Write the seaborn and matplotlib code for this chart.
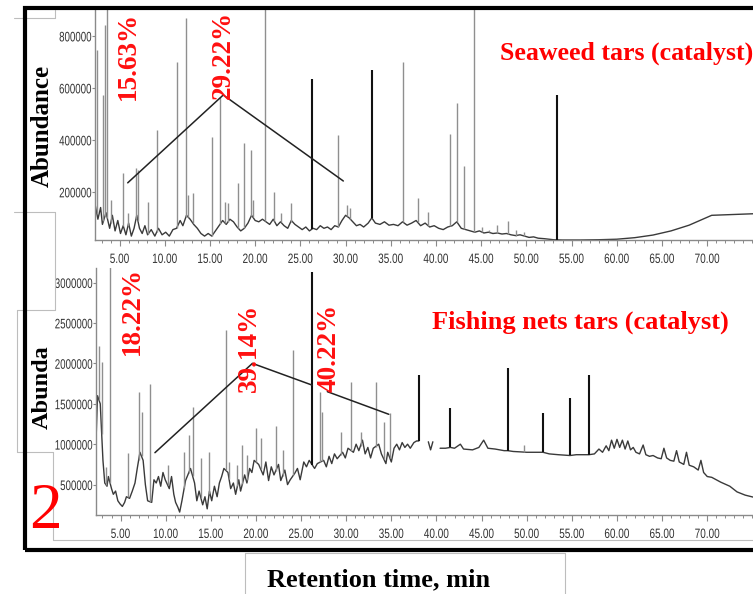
import numpy as np
import pandas as pd
import matplotlib
matplotlib.use("Agg")
import matplotlib.pyplot as plt
import seaborn as sns
from matplotlib.patches import Rectangle
from matplotlib.lines import Line2D
from matplotlib.ticker import MultipleLocator, FuncFormatter
from matplotlib.patheffects import AbstractPathEffect
from matplotlib.transforms import Affine2D

# ---------------- data ----------------
# Seaweed tars (catalyst): baseline trace
sw_base_t = [2.3, 2.6, 2.9, 3.1, 3.5, 3.9, 4.2, 4.5, 4.8, 5.1, 5.4, 5.7, 6.0, 6.3, 6.6, 6.9, 7.2, 7.5, 7.8, 8.1,
             8.5, 8.9, 9.3, 9.7, 10.1, 10.5, 10.9, 11.3, 11.7, 12.0, 12.4, 12.8, 13.2, 13.6, 14.0, 14.4, 14.8,
             15.2, 15.6, 16.0, 16.4, 16.8, 17.2, 17.6, 18.0, 18.4, 18.8, 19.2, 19.6, 20.0, 20.4, 20.8, 21.2,
             21.6, 22.0, 22.4, 22.8, 23.2, 23.6, 24.0, 24.4, 24.8, 25.2, 25.6, 26.0, 26.4, 26.8, 27.2, 27.6,
             28.0, 28.4, 28.8, 29.2, 29.6, 30.0, 30.4, 30.8, 31.2, 31.6, 32.0, 32.5, 32.9, 33.3, 33.8, 34.3,
             34.8, 35.3, 35.8, 36.3, 36.8, 37.3, 37.8, 38.3, 38.8, 39.3, 39.8, 40.3, 40.8, 41.3, 41.8, 42.3,
             42.8, 43.3, 43.8, 44.3, 44.8, 45.3, 45.8, 46.3, 46.8, 47.3, 47.8, 48.3, 48.8, 49.3, 49.8, 50.3,
             50.8, 51.3, 52.0, 53.0, 54.0, 56.0, 58.0, 60.0, 62.0, 64.0, 66.0, 68.0, 69.5, 70.5, 72.0, 75.1]
sw_base_v = [150e3, 95e3, 140e3, 75e3, 120e3, 60e3, 110e3, 50e3, 90e3, 40e3, 70e3, 35e3, 80e3, 30e3, 60e3, 110e3,
             60e3, 40e3, 70e3, 35e3, 55e3, 30e3, 60e3, 35e3, 45e3, 30e3, 55e3, 60e3, 90e3, 70e3, 110e3, 95e3,
             75e3, 60e3, 40e3, 30e3, 40e3, 30e3, 50e3, 70e3, 90e3, 75e3, 95e3, 85e3, 65e3, 50e3, 60e3, 80e3,
             110e3, 90e3, 85e3, 95e3, 85e3, 75e3, 95e3, 70e3, 85e3, 70e3, 60e3, 90e3, 75e3, 65e3, 55e3, 65e3,
             50e3, 60e3, 55e3, 70e3, 60e3, 65e3, 55e3, 70e3, 65e3, 90e3, 110e3, 100e3, 85e3, 70e3, 75e3, 65e3,
             80e3, 100e3, 80e3, 75e3, 85e3, 72e3, 75e3, 70e3, 85e3, 72e3, 80e3, 90e3, 70e3, 80e3, 65e3, 70e3,
             60e3, 55e3, 65e3, 70e3, 85e3, 60e3, 55e3, 50e3, 45e3, 50e3, 42e3, 45e3, 40e3, 42e3, 38e3, 40e3,
             35e3, 32e3, 35e3, 30e3, 25e3, 27e3, 22e3, 20e3, 16e3, 15e3, 15e3, 16e3, 18e3, 24e3, 34e3, 50e3,
             72e3, 95e3, 110e3, 112e3, 116e3]
# Seaweed tars: peaks (thin grey) and strong black spikes
sw_peak_t = [2.47, 3.20, 3.38, 3.64, 4.02, 5.41, 5.93, 6.81, 7.04, 8.14, 9.10, 11.32, 12.35, 12.57, 13.12,
             15.19, 16.11, 16.66, 16.99, 18.10, 18.79, 19.54, 19.76, 21.08, 22.08, 22.82, 23.93, 29.16, 30.12,
             30.49, 36.38, 37.98, 39.15, 41.55, 42.29, 43.10, 44.24, 45.05, 45.86, 46.71, 47.96, 48.82, 49.73]
sw_peak_v = [746e3, 573e3, 842e3, 1.3e6, 170e3, 273e3, 119e3, 292e3, 285e3, 162e3, 438e3, 700e3, 869e3,
             188e3, 196e3, 412e3, 565e3, 162e3, 158e3, 234e3, 388e3, 361e3, 169e3, 1.5e6, 200e3, 119e3,
             158e3, 419e3, 150e3, 138e3, 700e3, 177e3, 123e3, 423e3, 542e3, 300e3, 1.5e6, 65e3, 54e3, 73e3,
             88e3, 54e3, 46e3]
sw_spike_t = [26.25, 32.89, 53.42]
sw_spike_v = [635e3, 669e3, 573e3]

# Fishing nets tars (catalyst): baseline trace (it has gaps after 38 min)
fn_base_t = [2.3, 2.45, 2.75, 3.05, 3.25, 3.5, 3.65, 4.0, 4.2, 4.45, 4.7, 4.95, 5.2, 5.45, 5.65, 6.0, 6.3, 6.6,
             6.85, 7.15, 7.5, 7.75, 8.0, 8.45, 8.7, 8.95, 9.2, 9.45, 9.7, 9.95, 10.4, 10.65, 10.9, 11.1, 11.35,
             11.55, 11.8, 12.2, 12.75, 13.2, 13.45, 13.7, 14.1, 14.35, 14.6, 14.85, 15.1, 15.4, 15.7, 15.95,
             16.2, 16.45, 16.9, 17.2, 17.5, 17.75, 18.1, 18.3, 18.75, 19.0, 19.3, 19.55, 19.8, 20.3, 20.8,
             21.1, 21.4, 21.7, 22.0, 22.5, 22.75, 23.2, 23.5, 23.8, 24.3, 24.6, 24.9, 25.3, 25.6, 25.9, 26.5,
             26.8, 27.5, 27.8, 28.1, 28.4, 28.7, 29.0, 29.6, 29.9, 30.2, 30.8, 31.1, 31.4, 31.8, 32.1, 32.4,
             32.7, 33.0, 33.6, 33.9, 34.4, 34.6, 35.0, 35.3, 35.6, 35.9, 36.2, 36.5, 36.8, 37.1, 37.5, 37.8,
             38.05,
             39.1, 39.35, 39.6,
             40.4, 41.0, 41.55, 42.0, 42.65, 43.0, 44.0, 44.7, 45.23, 45.7, 46.5, 47.5, 47.9, 48.5, 49.3,
             50.0, 51.0, 51.8, 52.5, 53.5, 54.8, 55.5, 56.9, 57.5, 58.0, 58.4, 58.8, 59.1, 59.4, 59.7, 60.0,
             60.3, 60.6, 60.9, 61.2, 61.5, 61.8, 62.1, 62.5, 62.9, 63.2, 63.6, 64.0, 64.5, 64.9, 65.2, 65.5,
             65.9, 66.3, 66.6, 66.9, 67.4, 67.7, 68.0, 68.5, 69.0, 69.3, 69.6, 70.0, 70.5, 71.5, 72.5, 73.3,
             74.2, 75.1]
fn_base_v = [1.1e6, 1.6e6, 1.5e6, 800e3, 520e3, 480e3, 600e3, 450e3, 380e3, 420e3, 300e3, 260e3, 230e3,
             280e3, 350e3, 330e3, 420e3, 520e3, 700e3, 900e3, 800e3, 500e3, 300e3, 280e3, 560e3, 520e3,
             600e3, 480e3, 650e3, 560e3, 450e3, 600e3, 380e3, 280e3, 220e3, 160e3, 300e3, 550e3, 700e3,
             520e3, 300e3, 420e3, 250e3, 350e3, 200e3, 420e3, 300e3, 480e3, 350e3, 520e3, 600e3, 700e3,
             650e3, 450e3, 520e3, 380e3, 560e3, 420e3, 620e3, 520e3, 700e3, 650e3, 800e3, 750e3, 620e3,
             780e3, 550e3, 720e3, 620e3, 750e3, 550e3, 680e3, 500e3, 560e3, 640e3, 700e3, 560e3, 780e3,
             720e3, 800e3, 700e3, 760e3, 800e3, 720e3, 850e3, 760e3, 880e3, 820e3, 900e3, 830e3, 950e3,
             900e3, 1.0e6, 920e3, 1.05e6, 880e3, 960e3, 830e3, 950e3, 1.0e6, 880e3, 760e3, 900e3, 780e3,
             950e3, 1.0e6, 930e3, 1.02e6, 960e3, 1.0e6, 950e3, 1.02e6, 1.04e6,
             1.04e6,
             1.03e6, 930e3, 1.03e6,
             950e3, 950e3, 960e3, 950e3, 1.0e6, 940e3, 930e3, 960e3, 1.05e6, 950e3, 940e3, 920e3, 920e3,
             910e3, 905e3, 900e3, 900e3, 900e3, 880e3, 870e3, 860e3, 870e3, 870e3, 880e3, 940e3, 900e3,
             980e3, 920e3, 1.05e6, 950e3, 1.06e6, 960e3, 1.05e6, 940e3, 1.04e6, 930e3, 960e3, 900e3, 880e3,
             990e3, 870e3, 850e3, 860e3, 830e3, 820e3, 950e3, 830e3, 800e3, 790e3, 920e3, 780e3, 750e3,
             900e3, 740e3, 720e3, 680e3, 800e3, 650e3, 600e3, 590e3, 530e3, 480e3, 410e3, 370e3, 345e3]
fn_gap_starts = [38.5, 40.0]   # the trace is broken just after these times
fn_peak_t = [2.61, 2.91, 3.38, 3.83, 5.79, 7.00, 7.33, 8.25, 10.21, 12.05, 12.53, 12.98, 13.89, 14.81,
             16.66, 17.02, 17.95, 18.51, 19.06, 19.98, 20.53, 22.19, 22.96, 24.15, 27.09, 27.36, 29.38,
             30.56, 31.59, 33.25, 34.17, 34.83, 42.65, 45.23, 49.73]
fn_peak_v = [2.21e6, 2.02e6, 721e3, 3.25e6, 891e3, 1.65e6, 1.40e6, 1.75e6, 742e3, 907e3, 1.11e6, 1.46e6,
             829e3, 900e3, 2.41e6, 780e3, 742e3, 990e3, 866e3, 1.20e6, 1.08e6, 1.22e6, 930e3, 2.17e6,
             1.65e6, 1.40e6, 1.15e6, 1.77e6, 1.15e6, 1.77e6, 1.28e6, 1.39e6, 1.0e6, 1.05e6, 990e3]
fn_spike_t = [26.25, 38.04, 41.55, 47.89, 51.80, 54.82, 56.89]
fn_spike_v = [3.13e6, 1.86e6, 1.45e6, 1.94e6, 1.38e6, 1.57e6, 1.86e6]

# group-range guide lines
sw_guide_t = [5.90, 16.47, 29.75]
sw_guide_v = [235e3, 573e3, 242e3]
fn_guide1_t = [8.81, 19.61, 26.25]
fn_guide1_v = [895e3, 2.0e6, 1.73e6]
fn_guide2_t = [27.91, 34.72]
fn_guide2_v = [1.65e6, 1.37e6]

sw_labels = ["15.63%", "29.22%"]
fn_labels = ["18.22%", "39.14%", "40.22%"]
sw_title = "Seaweed tars (catalyst)"
fn_title = "Fishing nets tars (catalyst)"
x_ticks = [5, 10, 15, 20, 25, 30, 35, 40, 45, 50, 55, 60, 65, 70]
sw_yticks = [200000, 400000, 600000, 800000]
fn_yticks = [500000, 1000000, 1500000, 2000000, 2500000, 3000000]


# ---------------- drawing ----------------
class Tall(AbstractPathEffect):
    """Draw text vertically stretched (narrow-font look), keeping top or centre fixed."""

    def __init__(self, sy=1.35, anchor="center"):
        super().__init__()
        self.sy = sy
        self.anchor = anchor

    def draw_path(self, renderer, gc, tpath, affine, rgbFace=None):
        ext = tpath.get_extents()
        ya = ext.y1 if self.anchor == "top" else 0.5 * (ext.y0 + ext.y1)
        pre = Affine2D().translate(0, -ya).scale(1.0, self.sy).translate(0, ya)
        renderer.draw_path(gc, tpath, pre + affine, rgbFace)


sns.set_theme(style="white")
plt.rcParams["font.family"] = ["Liberation Sans", "DejaVu Sans"]
SERIF = ["Liberation Serif", "DejaVu Serif"]

W, H = 753, 594
fig = plt.figure(figsize=(W / 100, H / 100), dpi=100)
fig.patch.set_facecolor("white")


def fx(x):
    return x / W


def fy(y):
    return 1 - y / H


ax1 = fig.add_axes([fx(95), fy(240), fx(753) - fx(95), fy(10) - fy(240)])
ax2 = fig.add_axes([fx(96), fy(515), fx(753) - fx(96), fy(268) - fy(515)])

XMIN, XMAX = 2.28, 75.07


def panel(ax, bt, bv, seg, pt, pv, st, sv, ylim, yticks):
    df = pd.DataFrame({"t": bt, "v": bv, "seg": seg})
    sns.lineplot(data=df, x="t", y="v", units="seg", estimator=None, sort=False,
                 color="#3a3a3a", lw=1.0, ax=ax, legend=False)
    pt = np.asarray(pt)
    pv = np.asarray(pv)
    pbase = np.interp(pt, bt, bv)
    ax.vlines(pt, pbase, pv, color="#8f8f8f", lw=1.0, zorder=3)
    sbase = np.interp(st, bt, bv)
    ax.vlines(st, sbase, sv, color="#111111", lw=1.5, zorder=4)
    ax.set_xlim(XMIN, XMAX)
    ax.set_ylim(*ylim)
    ax.set_xlabel("")
    ax.set_ylabel("")
    ax.patch.set_alpha(0)
    for s in ["top", "right"]:
        ax.spines[s].set_visible(False)
    for s in ["left", "bottom"]:
        ax.spines[s].set_color("#8a8a8a")
        ax.spines[s].set_linewidth(1.0)
    ax.set_xticks(x_ticks)
    ax.xaxis.set_minor_locator(MultipleLocator(1))
    ax.xaxis.set_major_formatter(FuncFormatter(lambda v, p: f"{v:.2f}"))
    ax.set_yticks(yticks)
    ax.yaxis.set_major_formatter(FuncFormatter(lambda v, p: f"{int(v)}"))
    ax.tick_params(axis="x", which="major", bottom=True, length=4.5, width=0.8, color="#8a8a8a",
                   labelsize=7.2, labelcolor="#333333", pad=4.5)
    ax.tick_params(axis="x", which="minor", bottom=True, length=2.5, width=0.7, color="#8a8a8a")
    ax.tick_params(axis="y", which="major", left=True, length=2.2, width=0.8, color="#8a8a8a",
                   labelsize=7.0, labelcolor="#333333", pad=0.4)
    ax.grid(False)


fn_seg = list(np.searchsorted(fn_gap_starts, fn_base_t))

panel(ax1, sw_base_t, sw_base_v, [0] * len(sw_base_t), sw_peak_t, sw_peak_v, sw_spike_t, sw_spike_v,
      (15e3, 900e3), sw_yticks)
panel(ax2, fn_base_t, fn_base_v, fn_seg, fn_peak_t, fn_peak_v, fn_spike_t, fn_spike_v,
      (124e3, 3.18e6), fn_yticks)

ax1.plot(sw_guide_t, sw_guide_v, color="#222222", lw=1.1, zorder=5)
ax2.plot(fn_guide1_t, fn_guide1_v, color="#222222", lw=1.1, zorder=5)
ax2.plot(fn_guide2_t, fn_guide2_v, color="#222222", lw=1.1, zorder=5)

# percentage labels
for txt, (x, y) in zip(sw_labels, [(128.5, 56), (223.5, 55)]):
    fig.text(fx(x), fy(y), txt, rotation=90, color="#ff1010", fontsize=19.5, fontweight="bold",
             family=SERIF, ha="center", va="center", zorder=6)
for txt, (x, y) in zip(fn_labels, [(132, 311), (249, 348), (329, 348)]):
    fig.text(fx(x), fy(y), txt, rotation=90, color="#ff1010", fontsize=19.5, fontweight="bold",
             family=SERIF, ha="center", va="center", zorder=6)

fig.text(fx(500), fy(53), sw_title, color="#ff0000", fontsize=18.6, fontweight="bold", family=SERIF,
         ha="left", va="center")
fig.text(fx(432), fy(322), fn_title, color="#ff0000", fontsize=19, fontweight="bold", family=SERIF,
         ha="left", va="center")

fig.text(fx(42), fy(126), "Abundance", rotation=90, fontsize=18, fontweight="bold", family=SERIF,
         color="black", ha="center", va="center")
fig.text(fx(42), fy(387), "Abunda", rotation=90, fontsize=17.5, fontweight="bold", family=SERIF,
         color="black", ha="center", va="center")
fig.text(fx(45.5), fy(512), "2", fontsize=47, family=SERIF, color="#ff0000", ha="center", va="center")
fig.text(fx(379), fy(580), "Retention time, min", fontsize=19, fontweight="bold", family=SERIF,
         color="black", ha="center", va="center")

# thin grey box remnants
grey_lines = [
    [(14, 18), (55, 18)], [(55, 10), (55, 18)],
    [(14, 212), (55, 212)], [(55, 212), (55, 310)],
    [(17, 310), (55, 310)], [(17, 310), (17, 452)], [(17, 452), (53, 452)],
    [(53, 452), (53, 540)], [(53, 540), (753, 540)],
    [(245, 553), (565, 553)], [(245, 553), (245, 594)], [(565, 553), (565, 594)],
]
for (xa, ya), (xb, yb) in grey_lines:
    fig.add_artist(Line2D([fx(xa), fx(xb)], [fy(ya), fy(yb)], color="#bdbdbd", lw=0.8,
                          transform=fig.transFigure, zorder=2))

# thick black frame
fig.add_artist(Rectangle((fx(25), fy(550)), fx(820) - fx(25), fy(8) - fy(550), fill=False,
                         ec="black", lw=3.0, transform=fig.transFigure, zorder=10))

# narrow-looking (tall) tick labels
fig.canvas.draw()
for ax in (ax1, ax2):
    for lbl in ax.get_xticklabels():
        lbl.set_path_effects([Tall(1.35, "top")])
    for lbl in ax.get_yticklabels():
        lbl.set_path_effects([Tall(1.42, "center")])

fig.savefig("out.png", dpi=100, facecolor="white")
